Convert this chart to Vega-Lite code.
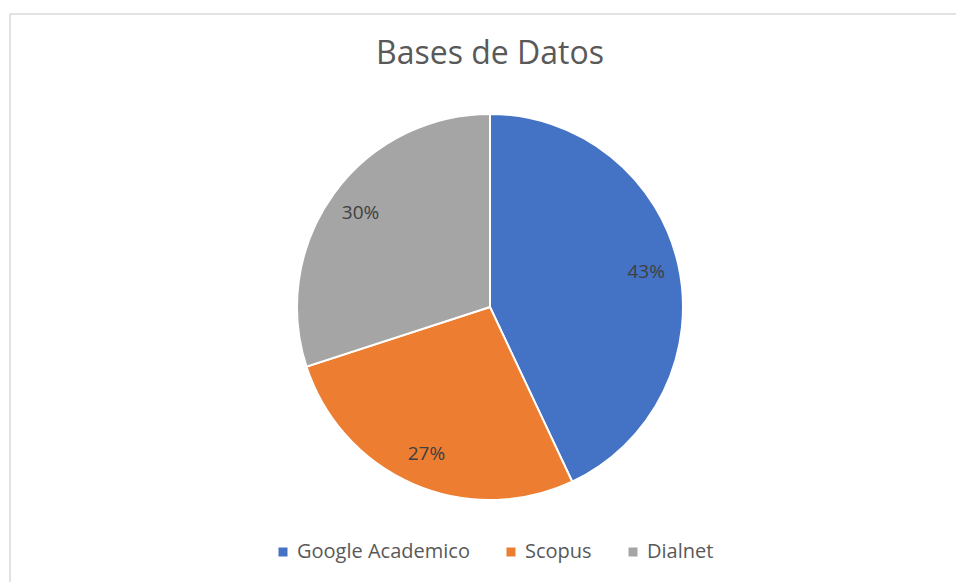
{
  "$schema": "https://vega.github.io/schema/vega-lite/v6.json",
  "width": 950,
  "height": 572,
  "padding": {"left": 10, "top": 14, "right": -4, "bottom": -4},
  "autosize": {"type": "none"},
  "background": "white",
  "view": {"stroke": "#d9d9d9", "strokeWidth": 1.5, "fill": "white"},
  "config": {
    "font": "Open Sans"
  },
  "title": {
    "text": "Bases de Datos",
    "fontSize": 32,
    "font": "Open Sans",
    "fontWeight": "normal",
    "color": "#595959",
    "anchor": "middle",
    "baseline": "alphabetic",
    "offset": -82,
    "dx": 5
  },
  "data": {
    "values": [
      {"base": "Google Academico", "value": 0.43, "order": 1},
      {"base": "Scopus", "value": 0.27, "order": 2},
      {"base": "Dialnet", "value": 0.30, "order": 3}
    ]
  },
  "encoding": {
    "theta": {"field": "value", "type": "quantitative", "stack": true},
    "order": {"field": "order", "type": "quantitative"}
  },
  "layer": [
    {
      "mark": {"type": "arc", "outerRadius": 193, "stroke": "white", "strokeWidth": 2, "xOffset": 5, "yOffset": 7},
      "encoding": {
        "color": {
          "field": "base",
          "type": "nominal",
          "sort": ["Google Academico", "Scopus", "Dialnet"],
          "scale": {"domain": ["Google Academico", "Scopus", "Dialnet"], "range": ["#4472C4", "#ED7D31", "#A5A5A5"]},
          "legend": {
            "title": null,
            "orient": "none",
            "direction": "horizontal",
            "legendX": 263,
            "legendY": 528,
            "symbolType": "square",
            "symbolSize": 81,
            "symbolStrokeWidth": 0,
            "labelFontSize": 20,
            "labelFont": "Open Sans",
            "labelColor": "#595959",
            "labelOffset": 4,
            "labelLimit": 400,
            "columnPadding": 31,
            "padding": 0
          }
        }
      }
    },
    {
      "mark": {"type": "text", "radius": 160, "fontSize": 19, "font": "Open Sans", "color": "#404040", "xOffset": 5, "yOffset": 7},
      "encoding": {
        "text": {"field": "value", "type": "quantitative", "format": ".0%"},
        "detail": {"field": "base"}
      }
    }
  ]
}
